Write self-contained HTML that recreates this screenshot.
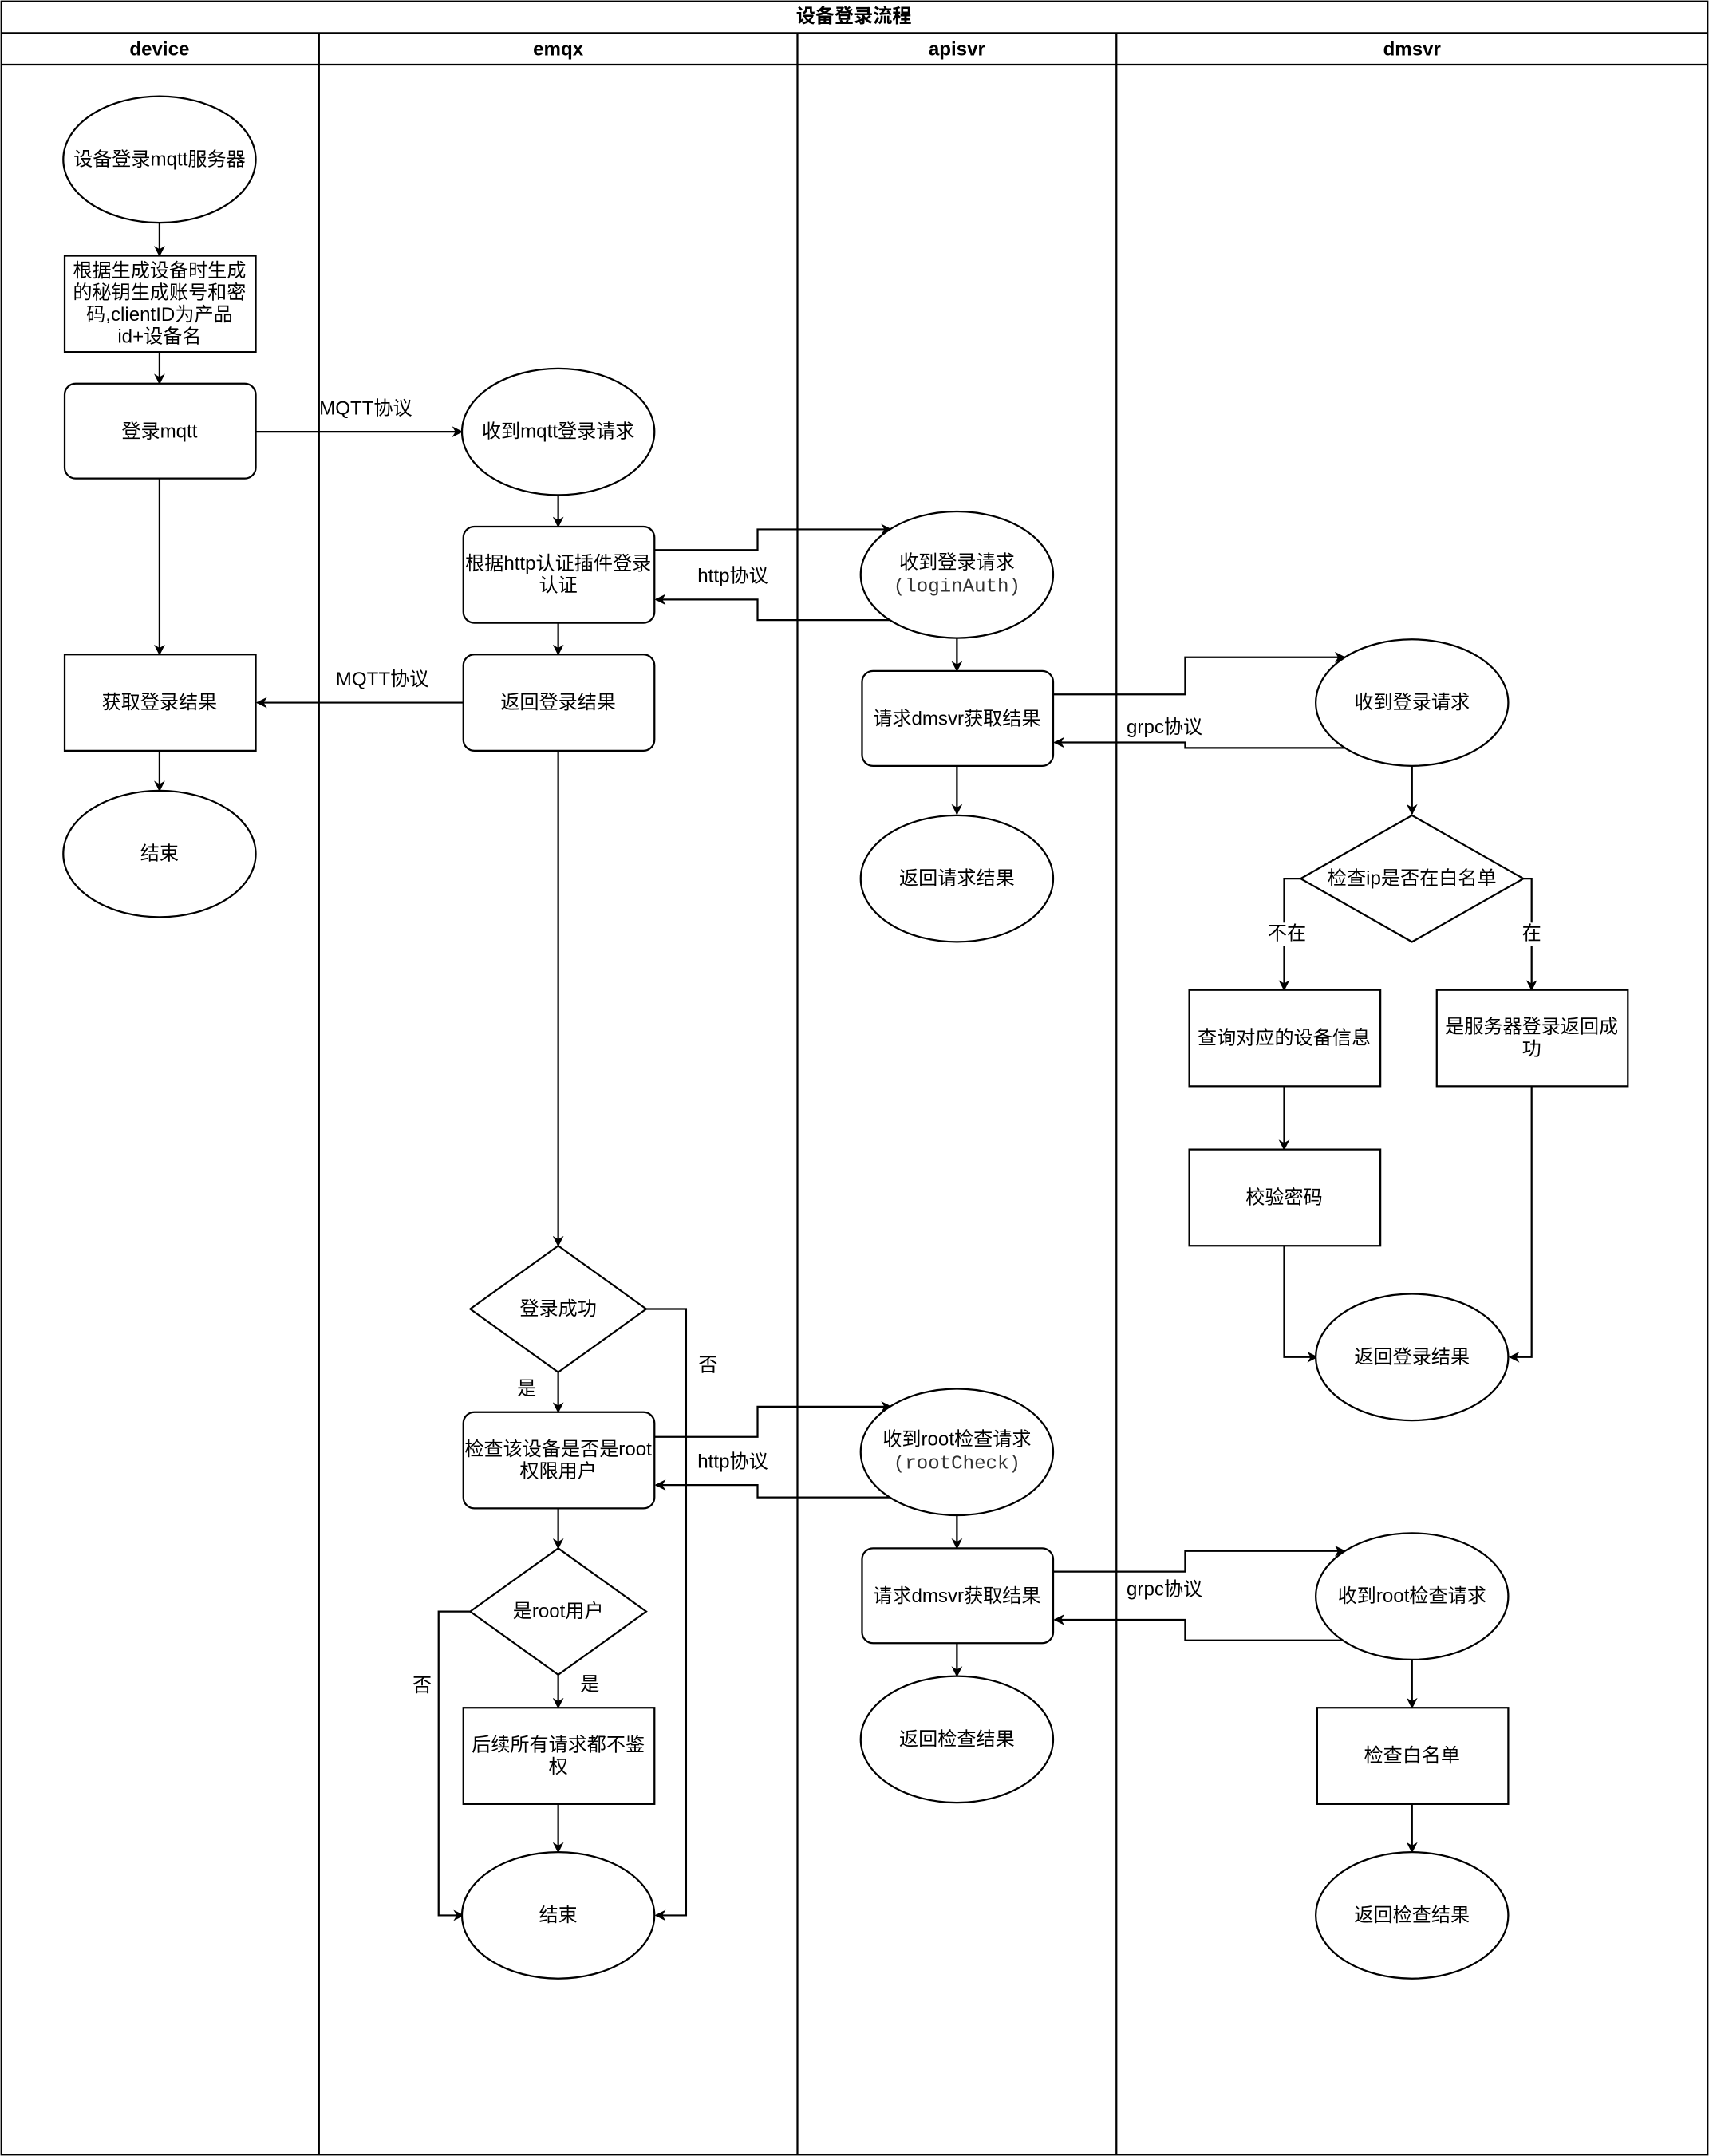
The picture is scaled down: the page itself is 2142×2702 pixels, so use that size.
<!DOCTYPE html>
<html><head><meta charset="utf-8"><style>html,body{margin:0;padding:0;background:#fff}svg{display:block}</style></head><body>
<svg xmlns="http://www.w3.org/2000/svg" width="2142" height="2702" viewBox="0 0 1243 1568">
<defs><marker id="a" viewBox="0 0 10 10" refX="9" refY="5" markerWidth="8" markerHeight="8" orient="auto" markerUnits="userSpaceOnUse"><path d="M0,0 L10,5 L0,10 L3,5 z" fill="#000"/></marker></defs>
<style>text{font-family:"Liberation Sans","Noto Sans CJK SC",sans-serif;font-size:14px;fill:#000;text-anchor:middle;dominant-baseline:central}.b{font-weight:bold}.m{font-family:"Liberation Mono","Noto Sans CJK SC",monospace;fill:#333}.s{fill:#fff;stroke:#000;stroke-width:1.3}.l{fill:none;stroke:#000;stroke-width:1.3}</style>
<rect x="1" y="1" width="1241" height="1566" class="l"/>
<line x1="1" y1="24" x2="1242" y2="24" class="l"/><line x1="1" y1="47" x2="1242" y2="47" class="l"/>
<line x1="232" y1="24" x2="232" y2="1567" class="l"/><line x1="580" y1="24" x2="580" y2="1567" class="l"/><line x1="812" y1="24" x2="812" y2="1567" class="l"/>
<text x="621" y="12" class="b">设备登录流程</text>
<text x="116" y="36" class="b">device</text><text x="406" y="36" class="b">emqx</text><text x="696" y="36" class="b">apisvr</text><text x="1027" y="36" class="b">dmsvr</text>
<g class="l" marker-end="url(#a)">
<path d="M116,162V186"/><path d="M116,256V279"/><path d="M116,348V476"/><path d="M116,546V575"/>
<path d="M186,314H336"/><path d="M406,360V383"/><path d="M406,453V476"/><path d="M337,511H187"/>
<path d="M476,400H551V385H648"/><path d="M648,451H551V436H477"/><path d="M696,464V488"/>
<path d="M766,505H862V478H978"/><path d="M978,544H862V540H767"/><path d="M696,557V592"/><path d="M1027,557V592"/>
<path d="M946,639H934V720"/><path d="M1108,639H1114V720"/><path d="M934,790V836"/><path d="M934,906V987H958"/><path d="M1114,790V987H1098"/>
<path d="M406,546V906"/><path d="M406,998V1027"/><path d="M470,952H499V1393H477"/>
<path d="M476,1045H551V1023H648"/><path d="M648,1089H551V1080H477"/><path d="M696,1102V1126"/>
<path d="M766,1143H862V1128H978"/><path d="M978,1193H862V1178H767"/><path d="M696,1195V1219"/>
<path d="M406,1097V1126"/><path d="M406,1218V1242"/><path d="M343,1172H319V1393H337"/><path d="M406,1312V1347"/>
<path d="M1027,1207V1242"/><path d="M1027,1312V1347"/>
</g>
<g class="s">
<ellipse cx="116" cy="116" rx="70" ry="46"/><rect x="47" y="186" width="139" height="70"/><rect x="47" y="279" width="139" height="69" rx="8"/><rect x="47" y="476" width="139" height="70"/><ellipse cx="116" cy="621" rx="70" ry="46"/>
<ellipse cx="406" cy="314" rx="70" ry="46"/><rect x="337" y="383" width="139" height="70" rx="8"/><rect x="337" y="476" width="139" height="70" rx="8"/>
<path d="M406,906L470,952L406,998L342,952Z"/><rect x="337" y="1027" width="139" height="70" rx="8"/><path d="M406,1126L470,1172L406,1218L342,1172Z"/><rect x="337" y="1242" width="139" height="70"/><ellipse cx="406" cy="1393" rx="70" ry="46"/>
<ellipse cx="696" cy="418" rx="70" ry="46"/><rect x="627" y="488" width="139" height="69" rx="8"/><ellipse cx="696" cy="639" rx="70" ry="46"/>
<ellipse cx="696" cy="1056" rx="70" ry="46"/><rect x="627" y="1126" width="139" height="69" rx="8"/><ellipse cx="696" cy="1265" rx="70" ry="46"/>
<ellipse cx="1027" cy="511" rx="70" ry="46"/><path d="M1027,593L1108,639L1027,685L946,639Z"/><rect x="865" y="720" width="139" height="70"/><rect x="1045" y="720" width="139" height="70"/><rect x="865" y="836" width="139" height="70"/><ellipse cx="1027" cy="987" rx="70" ry="46"/>
<ellipse cx="1027" cy="1161" rx="70" ry="46"/><rect x="958" y="1242" width="139" height="70"/><ellipse cx="1027" cy="1393" rx="70" ry="46"/>
</g>
<text x="116" y="116">设备登录mqtt服务器</text>
<text x="116" y="197">根据生成设备时生成</text><text x="116" y="213">的秘钥生成账号和密</text><text x="116" y="229">码,clientID为产品</text><text x="116" y="245">id+设备名</text>
<text x="116" y="314">登录mqtt</text><text x="116" y="511">获取登录结果</text><text x="116" y="621">结束</text>
<text x="266" y="297">MQTT协议</text><text x="278" y="494">MQTT协议</text>
<text x="406" y="314">收到mqtt登录请求</text><text x="406" y="410">根据http认证插件登录</text><text x="406" y="426">认证</text><text x="406" y="511">返回登录结果</text>
<text x="406" y="952">登录成功</text><text x="383" y="1010">是</text><text x="515" y="993">否</text>
<text x="406" y="1054">检查该设备是否是root</text><text x="406" y="1070">权限用户</text>
<text x="406" y="1172">是root用户</text><text x="429" y="1225">是</text><text x="307" y="1226">否</text>
<text x="406" y="1269">后续所有请求都不鉴</text><text x="406" y="1285">权</text><text x="406" y="1393">结束</text>
<text x="533" y="419">http协议</text><text x="533" y="1063">http协议</text>
<text x="696" y="409">收到登录请求</text><text x="696" y="427" class="m">(loginAuth)</text>
<text x="696" y="523">请求dmsvr获取结果</text><text x="696" y="639">返回请求结果</text>
<text x="696" y="1047">收到root检查请求</text><text x="696" y="1065" class="m">(rootCheck)</text>
<text x="696" y="1161">请求dmsvr获取结果</text><text x="696" y="1265">返回检查结果</text>
<text x="847" y="529">grpc协议</text><text x="847" y="1156">grpc协议</text>
<text x="1027" y="511">收到登录请求</text><text x="1027" y="639">检查ip是否在白名单</text>
<rect x="920" y="671" width="32" height="17" fill="#fff"/><text x="936" y="679">不在</text>
<rect x="1105" y="671" width="18" height="17" fill="#fff"/><text x="1114" y="679">在</text>
<text x="934" y="755">查询对应的设备信息</text><text x="1114" y="747">是服务器登录返回成</text><text x="1114" y="763">功</text>
<text x="934" y="871">校验密码</text><text x="1027" y="987">返回登录结果</text>
<text x="1027" y="1161">收到root检查请求</text><text x="1027" y="1277">检查白名单</text><text x="1027" y="1393">返回检查结果</text>
</svg>
</body></html>
